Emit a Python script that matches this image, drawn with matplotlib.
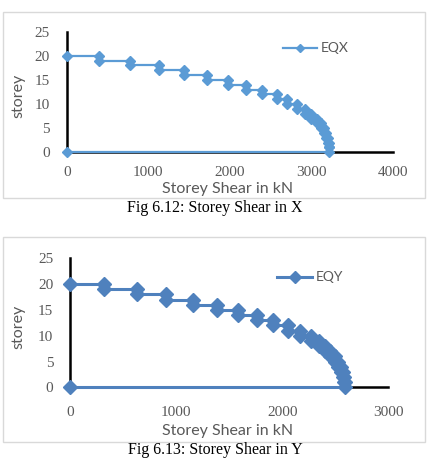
import matplotlib
matplotlib.use("Agg")
import matplotlib.pyplot as plt
from matplotlib.patches import Rectangle
from matplotlib.lines import Line2D

W, H = 432, 458

# storey shear per storey, from storey 20 (top) down to storey 1
storeys = list(range(20, 0, -1))
shear_x = [393, 773, 1129, 1436, 1718, 1975, 2200, 2388, 2571, 2701,
           2816, 2915, 2995, 3060, 3110, 3150, 3180, 3198, 3208, 3215]
shear_y = [320, 627, 909, 1160, 1386, 1587, 1762, 1913, 2054, 2164,
           2267, 2345, 2405, 2455, 2498, 2530, 2555, 2570, 2582, 2588]

x_ticks_x = [0, 1000, 2000, 3000, 4000]
x_ticks_y = [0, 1000, 2000, 3000]
y_ticks = [0, 5, 10, 15, 20, 25]

GRAY = "#595959"


def step_profile(shear):
    # (0, top) -> steps down storey by storey -> back to (0, 0)
    xs, ys = [0], [storeys[0]]
    for s, v in zip(storeys, shear):
        xs += [v, v]
        ys += [s, s - 1]
    xs.append(0)
    ys.append(0)
    return xs, ys


def px_axes(fig, x0, x1, y_top, y_bot):
    return fig.add_axes([x0 / W, 1 - y_bot / H, (x1 - x0) / W, (y_bot - y_top) / H])


def draw_chart(fig, box, plot, shear, xmax, xticks, color, lw, ms,
               xpad, ypad, legend_pos, label, xlabel_y, ylabel_x, caption, caption_y):
    bx0, by0, bx1, by1 = box
    fig.patches.append(Rectangle((bx0 / W, 1 - by1 / H), (bx1 - bx0) / W, (by1 - by0) / H,
                                 transform=fig.transFigure, fill=False,
                                 edgecolor="#d9d9d9", lw=1.0))

    ax = px_axes(fig, *plot)
    xs, ys = step_profile(shear)
    ax.plot(xs, ys, color=color, lw=lw, marker="D", ms=ms, clip_on=False, zorder=3)
    ax.set_xlim(0, xmax)
    ax.set_ylim(0, 25)
    ax.set_xticks(xticks)
    ax.set_yticks(y_ticks)
    for side in ["top", "right"]:
        ax.spines[side].set_visible(False)
    for side in ["left", "bottom"]:
        ax.spines[side].set_linewidth(1.8)
        ax.spines[side].set_color("black")
    ax.spines["bottom"].set_zorder(1)
    ax.tick_params(length=0, labelsize=11, labelcolor=GRAY)
    ax.tick_params(axis="x", pad=xpad)
    ax.tick_params(axis="y", pad=ypad)
    for t in ax.get_xticklabels() + ax.get_yticklabels():
        t.set_fontfamily("Liberation Serif")

    fig.text(((plot[0] + plot[1]) / 2 - 2) / W, 1 - xlabel_y / H, "Storey Shear in kN",
             ha="center", va="center", fontsize=11.5, color=GRAY, family="Lato")
    fig.text(ylabel_x / W, 1 - ((plot[2] + plot[3]) / 2 + 4) / H, "storey",
             ha="center", va="center", rotation=90, fontsize=11.5, color=GRAY, family="Lato")

    lx0, lx1, ly = legend_pos
    fig.lines.append(Line2D([lx0 / W, lx1 / W], [1 - ly / H, 1 - ly / H],
                            transform=fig.transFigure, color=color, lw=lw))
    fig.lines.append(Line2D([(lx0 + lx1) / 2 / W], [1 - ly / H], transform=fig.transFigure,
                            color=color, marker="D", ms=ms * 0.8, lw=0))
    fig.text((lx1 + 4) / W, 1 - ly / H, label, ha="left", va="center",
             fontsize=10, color=GRAY, family="Lato")

    fig.text(215 / W, 1 - caption_y / H, caption, ha="center", va="center",
             fontsize=11.5, color="black", family="Liberation Serif")
    return ax


fig = plt.figure(figsize=(W / 100, H / 100), dpi=100)

draw_chart(fig, (3, 12, 425, 198), (66.7, 393.3, 31.7, 152.3), shear_x, 4000, x_ticks_x,
           "#5b9bd5", 1.6, 5, 10, 12, (283, 317, 48), "EQX", 189, 18,
           "Fig 6.12: Storey Shear in X", 208)

draw_chart(fig, (3, 237, 425, 442), (70, 388.3, 258.3, 387.3), shear_y, 3000, x_ticks_y,
           "#4f81bd", 2.2, 7.5, 13.5, 12, (277, 312, 277), "EQY", 431, 18,
           "Fig 6.13: Storey Shear in Y", 450)

fig.savefig("out.png", dpi=100)
